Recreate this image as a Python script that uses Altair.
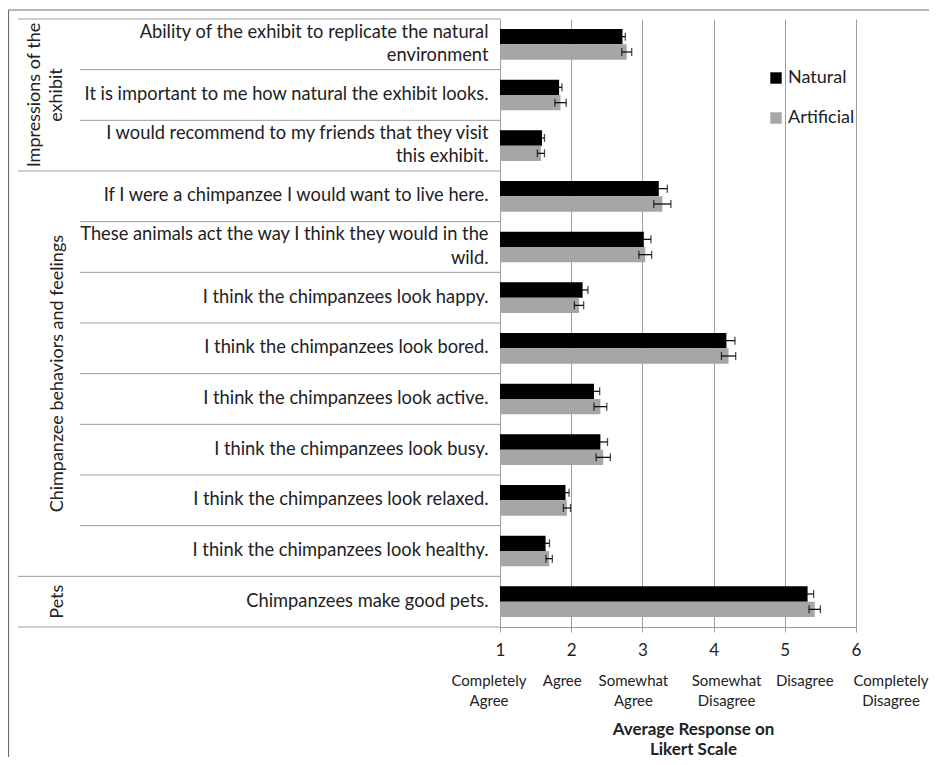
import altair as alt
import pandas as pd

items = [
    "Ability of the exhibit to replicate the natural|environment",
    "It is important to me how natural the exhibit looks.",
    "I would recommend to my friends that they visit|this exhibit.",
    "If I were a chimpanzee I would want to live here.",
    "These animals act the way I think they would in the|wild.",
    "I think the chimpanzees look happy.",
    "I think the chimpanzees look bored.",
    "I think the chimpanzees look active.",
    "I think the chimpanzees look busy.",
    "I think the chimpanzees look relaxed.",
    "I think the chimpanzees look healthy.",
    "Chimpanzees make good pets.",
]
natural = [2.72, 1.83, 1.59, 3.23, 3.02, 2.16, 4.18, 2.32, 2.41, 1.92, 1.64, 5.32]
artificial = [2.78, 1.85, 1.575, 3.28, 3.04, 2.11, 4.21, 2.41, 2.45, 1.94, 1.69, 5.42]
natural_err = [0.04, 0.04, 0.035, 0.12, 0.10, 0.075, 0.12, 0.08, 0.10, 0.05, 0.055, 0.085]
artificial_err = [0.07, 0.08, 0.05, 0.12, 0.09, 0.065, 0.10, 0.09, 0.10, 0.05, 0.045, 0.08]

series = ["Natural", "Artificial"]
colors = ["#000000", "#a6a6a6"]

groups = ["Impressions of the|exhibit", "Chimpanzee behaviors and feelings", "Pets"]
group_first = [items[0], items[3], items[11]]
inner_bounds = [items[i] for i in [1, 2, 4, 5, 6, 7, 8, 9, 10]]

scale_vals = [1, 2, 3, 4, 5, 6]
scale_desc = ["Completely|Agree", "Agree", "Somewhat|Agree", "Somewhat|Disagree",
              "Disagree", "Completely|Disagree"]

W, H = 356, 608
FONT = "Lato"
TXT = "#222222"
LINE = "#9d9d9d"
LH = 23.5
# horizontal nudges (pixels) of the answer-wording text boxes under the ticks
desc_nudge_px = [-11, -9, -9, 13, 20, 35]

rows, caps = [], []
for i, it in enumerate(items):
    for s, m, e in (("Natural", natural[i], natural_err[i]), ("Artificial", artificial[i], artificial_err[i])):
        rows.append(dict(item=it, series=s, mean=m, lo=m - e, hi=m + e))
        caps.append(dict(item=it, series=s, end=m - e))
        caps.append(dict(item=it, series=s, end=m + e))
df = pd.DataFrame(rows)
caps_df = pd.DataFrame(caps)
inner_df = pd.DataFrame({"item": inner_bounds})
first_df = pd.DataFrame({"item": group_first})
last_df = pd.DataFrame({"item": [items[-1]]})
desc_df = pd.DataFrame({"val": scale_vals, "desc": scale_desc, "nudge": desc_nudge_px})
one = pd.DataFrame({"a": [0]})

y_scale = alt.Scale(domain=items, paddingInner=0, paddingOuter=0)
y_axis = alt.Axis(title=None, labelExpr="split(datum.label, '|')", ticks=False,
                  domainColor=LINE, labelFont=FONT, labelFontSize=18.3, labelColor=TXT,
                  labelPadding=12, labelLimit=600, labelLineHeight=LH,
                  labelOffset={"condition": {"test": "indexof(datum.label, '|') >= 0",
                                             "value": -LH / 2}, "value": 0})
x_scale = alt.Scale(domain=[1, 6], zero=False, nice=False)
x_axis = alt.Axis(values=scale_vals, format="d",
                  title=["Average Response on", "Likert Scale"], titleFont=FONT,
                  titleFontSize=17, titleFontWeight="bold", titleColor=TXT,
                  titlePadding=63, titleX=W / 2 + 15, titleLineHeight=20,
                  grid=True, gridColor=LINE, domainColor=LINE, tickColor=LINE,
                  tickSize=5, labelFont=FONT, labelFontSize=17, labelPadding=10,
                  labelColor=TXT, labelFlush=False)


def Y(bp=None, field="item:N"):
    if bp is None:
        return alt.Y(field, sort=items, scale=y_scale, axis=y_axis)
    return alt.Y(field, sort=items, scale=y_scale, axis=y_axis, bandPosition=bp)


yoff = alt.YOffset("series:N", sort=series, scale=alt.Scale(domain=series, paddingOuter=0.65, paddingInner=0))

bars = alt.Chart(df).mark_bar().encode(
    x=alt.X("mean:Q", scale=x_scale, axis=x_axis),
    x2=alt.datum(1),
    y=Y(),
    yOffset=yoff,
    color=alt.Color("series:N", sort=series,
                    scale=alt.Scale(domain=series, range=colors),
                    legend=alt.Legend(title=None, orient="none", legendX=267, legendY=50,
                                      symbolType="square", symbolSize=130,
                                      symbolStrokeWidth=0, labelFont=FONT,
                                      labelFontSize=18, labelColor=TXT,
                                      rowPadding=22, labelOffset=3, padding=0)),
)

err = alt.Chart(df).mark_rule(color="black", strokeWidth=1.2).encode(
    x=alt.X("lo:Q", scale=x_scale, axis=x_axis),
    x2="hi:Q",
    y=Y(),
    yOffset=yoff,
)

cap = alt.Chart(caps_df).mark_tick(color="black", size=8, thickness=1.3).encode(
    x=alt.X("end:Q", scale=x_scale, axis=x_axis),
    y=Y(),
    yOffset=yoff,
)

inner_rules = alt.Chart(inner_df).mark_rule(color=LINE, strokeWidth=1).encode(
    x=alt.value(-420), x2=alt.value(0), y=Y(0))
group_rules = alt.Chart(first_df).mark_rule(color=LINE, strokeWidth=1).encode(
    x=alt.value(-482), x2=alt.value(0), y=Y(0))
bottom_rule = alt.Chart(last_df).mark_rule(color=LINE, strokeWidth=1).encode(
    x=alt.value(-482), x2=alt.value(0), y=Y(1))


# group labels, each centred on its group of rows
def group_layer(label, anchor_item, bp, xpos):
    d = pd.DataFrame({"group": [label], "item": [anchor_item]})
    return alt.Chart(d).mark_text(
        angle=270, baseline="alphabetic", align="center", lineBreak="|", font=FONT,
        fontSize=18, lineHeight=22, color=TXT).encode(
        x=alt.value(xpos), y=Y(bp), text="group:N")


group_text_a = group_layer(groups[0], items[1], 0.5, -460)   # rows 0-2
group_text_b = group_layer(groups[1], items[6], 1.0, -437)   # rows 3-10
group_text_c = group_layer(groups[2], items[11], 0.5, -437)  # row 11

px_per_unit = W / 5.0
desc_text = alt.Chart(desc_df).transform_calculate(
    pos=f"datum.val + datum.nudge / {px_per_unit}"
).mark_text(
    baseline="alphabetic", align="center", lineBreak="|", font=FONT,
    fontSize=15, lineHeight=20, color=TXT).encode(
    x=alt.X("pos:Q", scale=x_scale, axis=x_axis), y=alt.value(667), text="desc:N")

frame_left = alt.Chart(one).mark_rule(color="#6e6e6e", strokeWidth=1.2).encode(
    x=alt.value(-491.5), y=alt.value(-9), y2=alt.value(760))
frame_top = alt.Chart(one).mark_rule(color="#6e6e6e", strokeWidth=1.2).encode(
    x=alt.value(-492), x2=alt.value(440), y=alt.value(-9))

chart = alt.layer(
    inner_rules, group_rules, bottom_rule, bars, err, cap,
    group_text_a, group_text_b, group_text_c,
    desc_text, frame_left, frame_top,
).properties(
    width=W, height=H,
    autosize=alt.AutoSizeParams(type="none"),
    padding={"left": 492, "top": 11, "right": 73, "bottom": 130},
    background="white",
).configure_view(stroke="transparent")

chart.save("out.html", embed_options={"renderer": "svg", "actions": False})
